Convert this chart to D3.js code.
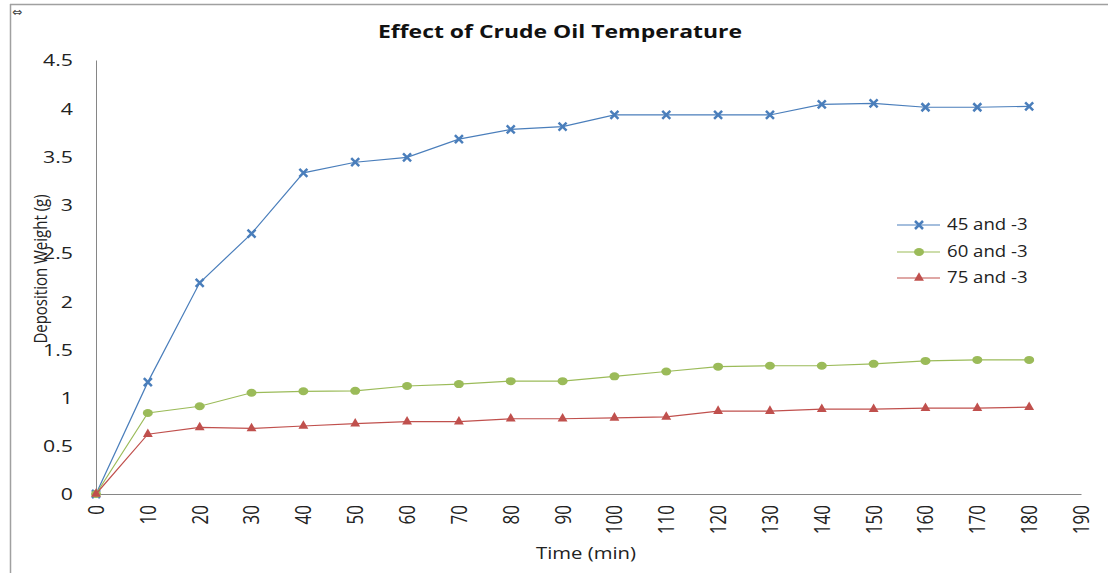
<!DOCTYPE html>
<html><head><meta charset="utf-8">
<script src="https://cdn.jsdelivr.net/npm/d3@7"></script>
<style>body{margin:0;background:#fff}svg{display:block}</style>
</head><body>
<svg id="c" width="1108" height="573"></svg>
<script>
const times = [0,10,20,30,40,50,60,70,80,90,100,110,120,130,140,150,160,170,180];
const s45 = [0,1.16,2.19,2.70,3.33,3.44,3.49,3.68,3.78,3.81,3.93,3.93,3.93,3.93,4.04,4.05,4.01,4.01,4.02];
const s60 = [0,0.84,0.91,1.05,1.065,1.07,1.12,1.14,1.17,1.17,1.22,1.27,1.32,1.33,1.33,1.35,1.38,1.39,1.39];
const s75 = [0,0.62,0.69,0.68,0.705,0.73,0.75,0.75,0.78,0.78,0.79,0.80,0.86,0.86,0.88,0.88,0.89,0.89,0.90];
const seriesNames = ["45 and -3","60 and -3","75 and -3"];
const xTicks = [0,10,20,30,40,50,60,70,80,90,100,110,120,130,140,150,160,170,180,190];
const yTicks = [0,0.5,1,1.5,2,2.5,3,3.5,4,4.5];
const colors = ["#4A7EBB","#9BBB59","#C0504D"];
const markers = ["x","circle","triangle"];

const svg = d3.select("#c");
const font = "'Open Sans', 'Liberation Sans', sans-serif";
const SX = 1.25; // horizontal stretch of the reference text
// frame
svg.append("line").attr("x1",10.5).attr("x2",10.5).attr("y1",4).attr("y2",573).attr("stroke","#a0a0a0").attr("stroke-width",1.5);
svg.append("line").attr("x1",10).attr("x2",1108).attr("y1",4.5).attr("y2",4.5).attr("stroke","#a0a0a0").attr("stroke-width",1.5);
svg.append("text").attr("x",12).attr("y",16).attr("font-size",12).attr("font-family","DejaVu Sans").attr("fill","#444").text("⇔");

const x = d3.scaleLinear().domain([0,190]).range([96,1081]);
const y = d3.scaleLinear().domain([0,4.5]).range([494,60]);

// axes
const xAxis = svg.append("g").attr("transform","translate(0,494)")
  .call(d3.axisBottom(x).tickValues(xTicks).tickSize(0).tickFormat(d3.format("d")));
xAxis.select(".domain").attr("stroke","#868686");
xAxis.selectAll("text").attr("font-family",font).attr("font-size",17).attr("fill","#222")
  .attr("x",0).attr("y",0).attr("dy","0.35em").attr("text-anchor","end")
  .attr("transform",`translate(0,11) rotate(-90) scale(1,${SX})`);

const yAxis = svg.append("g").attr("transform","translate(96,0)")
  .call(d3.axisLeft(y).tickValues(yTicks).tickSize(0).tickFormat(d=>String(d)));
yAxis.select(".domain").attr("stroke","#868686");
yAxis.selectAll("text").attr("font-family",font).attr("font-size",17).attr("fill","#222")
  .attr("x",0).attr("y",0).attr("dy","0.35em").attr("text-anchor","end")
  .attr("transform",`translate(-23,0) scale(${SX},1)`);

// titles
svg.append("text").attr("transform","translate(560,38) scale(1.35,1)").attr("text-anchor","middle").attr("font-family",font)
  .attr("font-weight","bold").attr("font-size",17).attr("fill","#111").text("Effect of Crude Oil Temperature");
svg.append("text").attr("transform","translate(586,559) scale(1.27,1)").attr("text-anchor","middle").attr("font-family",font)
  .attr("font-size",16).attr("fill","#222").text("Time (min)");
svg.append("text").attr("transform",`translate(47,269) rotate(-90) scale(1,${SX})`).attr("text-anchor","middle").attr("font-family",font)
  .attr("font-size",15).attr("fill","#222").text("Deposition  Weight (g)");

function drawMarker(g, type, color){
  if(type==="x"){
    g.append("path").attr("d","M-4,-4L4,4M-4,4L4,-4").attr("stroke",color).attr("stroke-width",2.5).attr("fill","none");
  } else if(type==="circle"){
    g.append("ellipse").attr("rx",5).attr("ry",4).attr("fill",color);
  } else {
    g.append("path").attr("d",d3.symbol(d3.symbolTriangle,42)()).attr("fill",color);
  }
}

const allSeries = [s45,s60,s75];
const line = d3.line().x(d=>x(d[0])).y(d=>y(d[1]));
allSeries.forEach((vals,i)=>{
  const pts = times.map((t,j)=>[t,vals[j]]);
  svg.append("path").datum(pts).attr("d",line).attr("fill","none").attr("stroke",colors[i]).attr("stroke-width",1.2);
  pts.forEach(p=>{
    const g = svg.append("g").attr("transform",`translate(${x(p[0])},${y(p[1])})`);
    drawMarker(g, markers[i], colors[i]);
  });
});

// legend
const ly = [225,252,278];
seriesNames.forEach((n,i)=>{
  svg.append("line").attr("x1",897).attr("x2",940).attr("y1",ly[i]).attr("y2",ly[i]).attr("stroke",colors[i]).attr("stroke-width",1.2);
  const g = svg.append("g").attr("transform",`translate(919,${ly[i]})`);
  drawMarker(g, markers[i], colors[i]);
  svg.append("text").attr("transform",`translate(947,${ly[i]}) scale(1.2,1)`).attr("dy","0.35em").attr("font-family",font).attr("font-size",15.5).attr("fill","#222").text(n);
});
</script>
</body></html>
